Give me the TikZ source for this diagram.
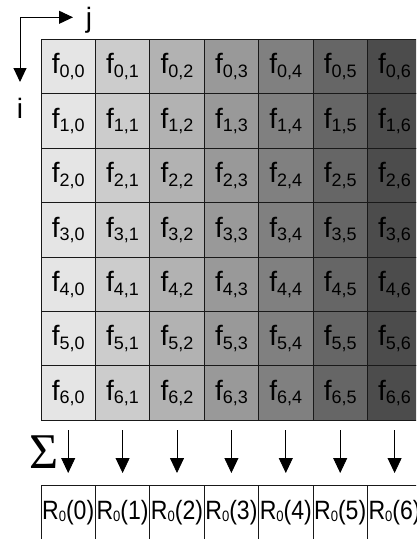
\documentclass[tikz,border=0pt]{standalone}
\usepackage{fontspec}
\setmainfont{Liberation Sans}
\newfontfamily\sigfont{Liberation Serif}
\usetikzlibrary{arrows.meta}
\newcommand{\fcell}[2]{\fontsize{28}{30}\selectfont f\raisebox{-3.5pt}{\fontsize{18}{18}\selectfont #1,#2}}
\newcommand{\rcell}[1]{\scalebox{0.87}[1]{\fontsize{26.5}{28}\selectfont R\raisebox{-2pt}{\fontsize{15}{15}\selectfont 0}(#1)}}
\begin{document}
\begin{tikzpicture}[x=1pt,y=-1pt,
  cellbox/.style={draw=black!90, line width=1pt, minimum width=54.4pt, minimum height=54.4pt, inner sep=0pt, outer sep=0pt, anchor=center},
  downarr/.style={line width=0.8pt, -{Triangle[length=15pt,width=14pt]}},
  axarr/.style={line width=1pt, -{Triangle[length=14pt,width=13pt]}},
  lbl/.style={font=\fontsize{28}{30}\selectfont, inner sep=0pt}]
\useasboundingbox (0,0) rectangle (416,539);
\clip (0,0) rectangle (416,539);
\foreach \j/\g in {0/10,1/20,2/30,3/40,4/50,5/60,6/70}{
  \foreach \i in {0,...,6}{
    \node[cellbox, fill=black!\g] (c-\i-\j) at ({68.2+54.4*\j},{66.7+54.4*\i}) {\fcell{\i}{\j}};
  }
  \node[cellbox, fill=white] (r-\j) at ({68.2+54.4*\j},{512.2}) {\rcell{\j}};
  \draw[downarr, shorten <=10pt, shorten >=12pt] (c-6-\j.south) -- (r-\j.north);
}
% axes
\coordinate (o) at (20,17.3);
\coordinate (jt) at (73,17.3);
\coordinate (it) at (20,82);
\draw[axarr] (o) -- (jt);
\draw[axarr] (o) -- (it);
\node[lbl, anchor=base] (jl) at (89,27.5) {j};
\node[lbl, anchor=base] (il) at (20,118) {i};
% sigma
\node[inner sep=0pt, anchor=base] (sig) at (44,468) {\sigfont\fontsize{50}{52}\selectfont Σ};
\end{tikzpicture}
\end{document}
